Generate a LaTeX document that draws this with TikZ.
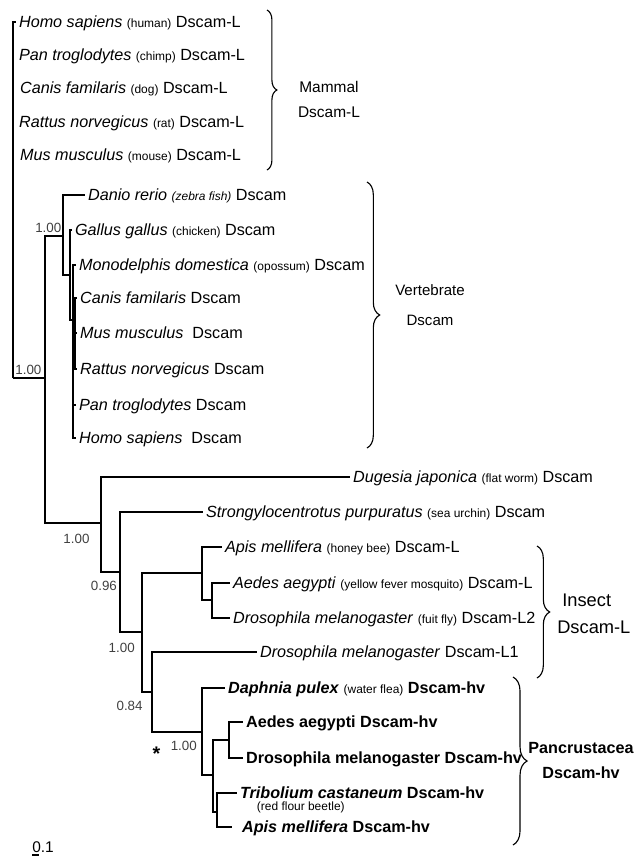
\documentclass[tikz,border=0pt]{standalone}
\usepackage{fontspec}
\setmainfont{Liberation Sans}
\usepackage{tikz}
\usetikzlibrary{decorations.pathreplacing}
\usetikzlibrary{positioning}
\definecolor{supportgray}{rgb}{0.25, 0.25, 0.25}
\newcommand{\comname}[1]{{\fontsize{8.5}{9}\selectfont #1}}

\begin{document}
\begin{tikzpicture}[x=0.025cm, y=-0.025cm,
	branch/.style={line width=1.3pt},
	leaf/.style={anchor=base west, yshift=-4pt, inner xsep=2pt, inner ysep=0pt, font=\fontsize{11.5}{13}\selectfont},
	support/.style={inner sep=0pt, font=\fontsize{9.5}{10}\selectfont, text=supportgray},
	clade/.style={decorate, decoration={brace, amplitude=#1}, line width=0.8pt},
	cladelabel/.style={inner sep=0pt, align=center}]
						\useasboundingbox (0,0) rectangle (640,857);

						% inner nodes
						\coordinate (root) at (13,378);
						\coordinate (r1) at (45,378);
						\coordinate (v0) at (63,236);
						\coordinate (v1) at (70,275);
						\coordinate (v2) at (73,320);
						\coordinate (v3) at (75,335);
						\coordinate (i0) at (101,523);
						\coordinate (i1) at (120,572);
						\coordinate (i2) at (142,632);
						\coordinate (i3) at (152,692);
						\coordinate (n-ins) at (202,573);
						\coordinate (n-dip) at (212,600);
						\coordinate (h0) at (202,732);
						\coordinate (h1) at (213,775);
						\coordinate (h2) at (229,740);
						\coordinate (h3) at (217,812);

						% leaves
						\coordinate (m-hom) at (16,22);
						\coordinate (m-pan) at (16,55);
						\coordinate (m-can) at (17,88);
						\coordinate (m-rat) at (16,122);
						\coordinate (m-mus) at (17,155);
						\coordinate (v-dan) at (85,195);
						\coordinate (v-gal) at (72,230);
						\coordinate (v-mon) at (76,265);
						\coordinate (v-can) at (77,298);
						\coordinate (v-mus) at (77,333);
						\coordinate (v-rat) at (77,369);
						\coordinate (v-pan) at (76,405);
						\coordinate (v-hom) at (76,438);
						\coordinate (i-dug) at (350,477);
						\coordinate (i-str) at (203,512);
						\coordinate (l-api) at (222,547);
						\coordinate (l-aed) at (230,583);
						\coordinate (l-dro2) at (230,618);
						\coordinate (l-dro1) at (257,652);
						\coordinate (h-dap) at (225,688);
						\coordinate (h-aed) at (243,722);
						\coordinate (h-dro) at (243,758);
						\coordinate (h-tri) at (237,793);
						\coordinate (h-api) at (232,827);

						% branches
						\draw[branch] (root) |- (m-hom);
						\draw[branch] (root) -- (r1);
						\draw[branch] (r1) |- (v0);
						\draw[branch] (r1) |- (i0);

						\draw[branch] (v0) |- (v-dan);
						\draw[branch] (v0) |- (v1);
						\draw[branch] (v1) |- (v-gal);
						\draw[branch] (v1) |- (v2);
						\draw[branch] (v2) |- (v-mon);
						\draw[branch] (v2) |- (v3);
						\draw[branch] (v2) |- (v-pan);
						\draw[branch] (v2) |- (v-hom);
						\draw[branch] (v3) |- (v-can);
						\draw[branch] (v3) |- (v-mus);
						\draw[branch] (v3) |- (v-rat);

						\draw[branch] (i0) |- (i-dug);
						\draw[branch] (i0) |- (i1);
						\draw[branch] (i1) |- (i-str);
						\draw[branch] (i1) |- (i2);
						\draw[branch] (i2) |- (n-ins);
						\draw[branch] (i2) |- (i3);
						\draw[branch] (n-ins) |- (l-api);
						\draw[branch] (n-ins) |- (n-dip);
						\draw[branch] (n-dip) |- (l-aed);
						\draw[branch] (n-dip) |- (l-dro2);
						\draw[branch] (i3) |- (l-dro1);
						\draw[branch] (i3) |- (h0);
						\draw[branch] (h0) |- (h-dap);
						\draw[branch] (h0) |- (h1);
						\draw[branch] (h1) |- (h2);
						\draw[branch] (h1) |- (h3);
						\draw[branch] (h2) |- (h-aed);
						\draw[branch] (h2) |- (h-dro);
						\draw[branch] (h3) |- (h-tri);
						\draw[branch] (h3) |- (h-api);

						% support values
						\node[support, above right = 2.5pt and 1.5pt of root] (s-root) {1.00};
						\node[support, above left = 2.5pt and 1pt of v0] (s-v0) {1.00};
						\node[support, below left = 7.5pt and 8pt of i0] (s-i0) {1.00};
						\node[support, below left = 6pt and 2pt of i1] (s-i1) {0.96};
						\node[support, below left = 8pt and 5pt of i2] (s-i2) {1.00};
						\node[support, below left = 6pt and 6.5pt of i3] (s-i3) {0.84};
						\node[support, below left = 6pt and 3.5pt of h0] (s-h0) {1.00};
						\node[left = 7pt of s-h0, yshift=-6pt, inner sep=0pt, font=\fontsize{14}{14}\selectfont\bfseries] (star) {*};

						% leaf labels
						\node[leaf] (lbl-mhom) at (m-hom) {\textit{Homo sapiens} \comname{(human)} Dscam-L};
						\node[leaf] (lbl-mpan) at (m-pan) {\textit{Pan troglodytes} \comname{(chimp)} Dscam-L};
						\node[leaf] (lbl-mcan) at (m-can) {\textit{Canis familaris} \comname{(dog)} Dscam-L};
						\node[leaf] (lbl-mrat) at (m-rat) {\textit{Rattus norvegicus} \comname{(rat)} Dscam-L};
						\node[leaf] (lbl-mmus) at (m-mus) {\textit{Mus musculus} \comname{(mouse)} Dscam-L};

						\node[leaf] (lbl-vdan) at (v-dan) {\textit{Danio rerio} \comname{\textit{(zebra fish)}} Dscam};
						\node[leaf] (lbl-vgal) at (v-gal) {\textit{Gallus gallus} \comname{(chicken)} Dscam};
						\node[leaf] (lbl-vmon) at (v-mon) {\textit{Monodelphis domestica} \comname{(opossum)} Dscam};
						\node[leaf] (lbl-vcan) at (v-can) {\textit{Canis familaris} Dscam};
						\node[leaf] (lbl-vmus) at (v-mus) {\textit{Mus musculus}\ \ Dscam};
						\node[leaf] (lbl-vrat) at (v-rat) {\textit{Rattus norvegicus} Dscam};
						\node[leaf] (lbl-vpan) at (v-pan) {\textit{Pan troglodytes} Dscam};
						\node[leaf] (lbl-vhom) at (v-hom) {\textit{Homo sapiens}\ \ Dscam};

						\node[leaf] (lbl-dug) at (i-dug) {\textit{Dugesia japonica} \comname{(flat worm)} Dscam};
						\node[leaf] (lbl-str) at (i-str) {\textit{Strongylocentrotus purpuratus} \comname{(sea urchin)} Dscam};
						\node[leaf] (lbl-lapi) at (l-api) {\textit{Apis mellifera} \comname{(honey bee)} Dscam-L};
						\node[leaf] (lbl-laed) at (l-aed) {\textit{Aedes aegypti} \comname{(yellow fever mosquito)} Dscam-L};
						\node[leaf] (lbl-ldro2) at (l-dro2) {\textit{Drosophila melanogaster} \comname{(fuit fly)} Dscam-L2};
						\node[leaf] (lbl-ldro1) at (l-dro1) {\textit{Drosophila melanogaster} Dscam-L1};

						\node[leaf] (lbl-hdap) at (h-dap) {\textbf{\textit{Daphnia pulex}} \comname{(water flea)} \textbf{Dscam-hv}};
						\node[leaf] (lbl-haed) at (h-aed) {\textbf{Aedes aegypti Dscam-hv}};
						\node[leaf] (lbl-hdro) at (h-dro) {\textbf{Drosophila melanogaster Dscam-hv}};
						\node[leaf] (lbl-htri) at (h-tri) {\textbf{\textit{Tribolium castaneum} Dscam-hv}};
						\node[anchor=north west, inner sep=0pt, font=\fontsize{8.5}{9}\selectfont] (lbl-hrfb) at ([shift={(14pt,-2pt)}]lbl-htri.base west) {(red flour beetle)};
						\node[leaf, xshift=5pt] (lbl-hapi) at (h-api) {\textbf{\textit{Apis mellifera} Dscam-hv}};

						% clade braces
						\coordinate (bm1) at (267,10);
						\coordinate (bm2) at (267,170);
						\draw[clade=7pt] (bm1) -- (bm2);
						\node[cladelabel, font=\fontsize{11}{17.8}\selectfont] (g-mam) at (329,99.5) {Mammal\\Dscam-L};

						\coordinate (bv1) at (367,182);
						\coordinate (bv2) at (367,448);
						\draw[clade=9pt] (bv1) -- (bv2);
						\node[cladelabel, font=\fontsize{10.7}{21.3}\selectfont] (g-vert) at (430,305) {Vertebrate\\Dscam};

						\coordinate (bi1) at (537,546);
						\coordinate (bi2) at (537,678);
						\draw[clade=9pt] (bi1) -- (bi2);
						\node[cladelabel, align=left, anchor=west, font=\fontsize{13}{19.2}\selectfont] (g-ins) at (557,613.5) {\ Insect\\Dscam-L};

						\coordinate (bp1) at (513,677);
						\coordinate (bp2) at (513,845);
						\draw[clade=10pt] (bp1) -- (bp2);
						\node[cladelabel, font=\fontsize{11.5}{17.8}\selectfont\bfseries] (g-pan) at (581,760.5) {Pancrustacea\\Dscam-hv};

						% scale bar
						\coordinate (sb0) at (32,855);
						\coordinate (sb1) at (39,855);
						\draw[line width=0.8pt] (sb0) -- (sb1);
						\node[anchor=base west, inner sep=0pt, font=\fontsize{11}{12}\selectfont] (scale) at (32,852.5) {0.1};
					\end{tikzpicture}
\end{document}
